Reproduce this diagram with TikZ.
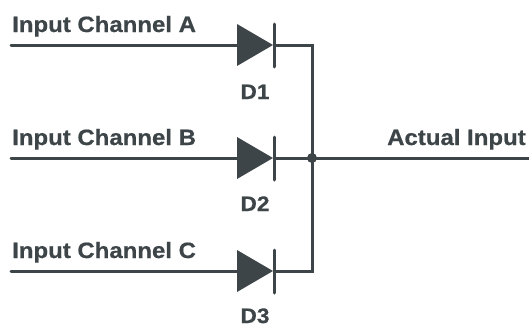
\documentclass[tikz,border=0pt]{standalone}
\usepackage{fontspec}
\setmainfont[FakeStretch=1.08,BoldFeatures={FakeStretch=1.08,FakeBold=0.6}]{Liberation Sans}
\definecolor{ink}{HTML}{3D4548}
\tikzset{
  x=1pt,y=-1pt,
  wire/.style={draw=ink,line width=3pt},
  lbl/.style={inner sep=0pt,text=ink,font=\fontsize{22.2}{25}\selectfont\bfseries,anchor=base west},
  dlbl/.style={inner sep=0pt,text=ink,font=\fontsize{21}{24}\selectfont\bfseries,anchor=base},
}
\begin{document}
\begin{tikzpicture}
\useasboundingbox (0,0) rectangle (529,327);
\coordinate (ina) at (11,45);
\coordinate (inb) at (11,158);
\coordinate (inc) at (11,271);
\coordinate (a) at (237,45);
\coordinate (b) at (237,158);
\coordinate (c) at (237,271);
\coordinate (ka) at (274,45);
\coordinate (kb) at (274,158);
\coordinate (kc) at (274,271);
\coordinate (bta) at (312,45);
\coordinate (btc) at (312,271);
\coordinate (j) at (312,158);
\coordinate (out) at (529,158);
\draw[wire,line cap=round] (ina) -- (a);
\draw[wire,line cap=round] (inb) -- (b);
\draw[wire,line cap=round] (inc) -- (c);
\draw[wire,line join=miter] (ka) -- (bta) -- (btc) -- (kc);
\draw[wire] (kb) -- (out);
\foreach \n in {a,b,c}{
  \fill[ink] ([yshift=-21pt]\n) -- ([yshift=21pt]\n) -- ([xshift=36pt]\n) -- cycle;
  \draw[wire,line cap=round] ([shift={(37,-21)}]\n) -- ([shift={(37,22)}]\n);
}
\fill[ink] (j) circle (5);
\node[lbl] (la) at (12,32) {Input Channel A};
\node[lbl] (lb) at (12,145) {Input Channel B};
\node[lbl] (lc) at (12,258) {Input Channel C};
\node[lbl] (lo) at (387,145) {Actual Input};
\node[dlbl] (d1) at (255,99) {D1};
\node[dlbl] (d2) at (255,211) {D2};
\node[dlbl] (d3) at (255,323) {D3};
\end{tikzpicture}
\end{document}
